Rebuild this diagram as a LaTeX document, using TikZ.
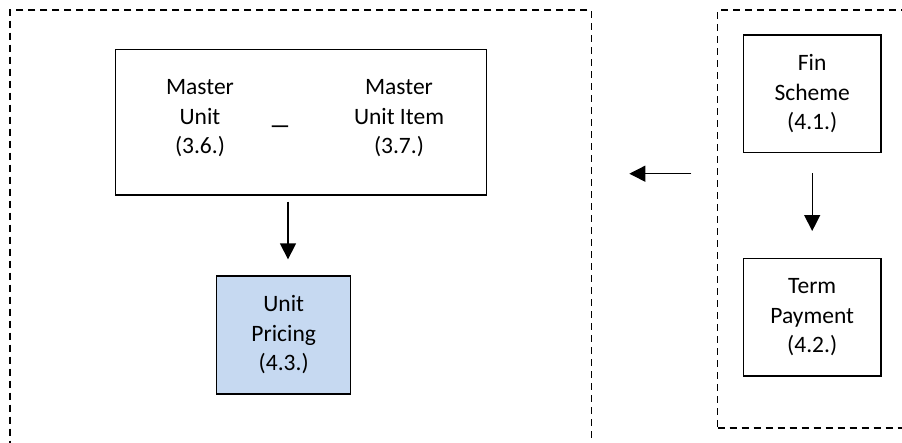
\documentclass[tikz,border=0pt]{standalone}
\usepackage{fontspec}
\setmainfont{Carlito}
\usetikzlibrary{arrows.meta}
\definecolor{pricefill}{HTML}{C6D9F1}
\begin{document}
\begin{tikzpicture}[x=1pt,y=-1pt,
  box/.style={draw, line width=1.3pt, rectangle, inner sep=0pt, align=center,
    font=\fontsize{23.5}{29.5}\selectfont},
  group/.style={draw, line width=1.3pt, dash pattern=on 7pt off 5pt, rectangle, inner sep=0pt},
  label/.style={align=center, inner sep=0pt, font=\fontsize{23.5}{29.5}\selectfont},
  arr/.style={-{Triangle[length=16pt,width=16pt]}, line width=1.3pt}]
\useasboundingbox (0,0) rectangle (902,442);
\clip (0,0) rectangle (902,442);
\fill[white] (0,0) rectangle (902,442);

% dashed groups (open at the page edges)
\node[group, minimum width=581.7pt, minimum height=470pt] (left) at (300.85,245) {};
\node[group, minimum width=222pt, minimum height=418pt] (right) at (828.7,219) {};

% left group
\node[box, minimum width=371pt, minimum height=145.7pt] (master) at (301.2,122.2) {};
\node[label] (mu) at (200,118.5) {Master\\Unit\\(3.6.)};
\node[label] (mui) at (399,118.5) {Master\\Unit Item\\(3.7.)};
\node[label, xscale=1.4, yscale=1.3] (sep) at (280,126) {\_};
\node[box, fill=pricefill, minimum width=134pt, minimum height=118pt] (pricing) at (283.7,335) {Unit\\Pricing\\(4.3.)};

% right group
\node[box, minimum width=137.7pt, minimum height=117.7pt] (fin) at (812.2,93.8) {Fin\\Scheme\\(4.1.)};
\node[box, minimum width=137.7pt, minimum height=117.3pt] (term) at (812.2,317.3) {Term\\Payment\\(4.2.)};

% connectors
\coordinate (mid) at (288,0);
\draw[arr, shorten <=6pt, shorten >=16pt] (master.south -| mid) -- (pricing.north -| mid);
\draw[arr, shorten <=20pt, shorten >=27pt] (fin.south) -- (term.north);
\coordinate (h) at (0,173.7);
\draw[arr, shorten <=25.7pt, shorten >=37pt] (right.west |- h) -- (left.east |- h);
\end{tikzpicture}
\end{document}
